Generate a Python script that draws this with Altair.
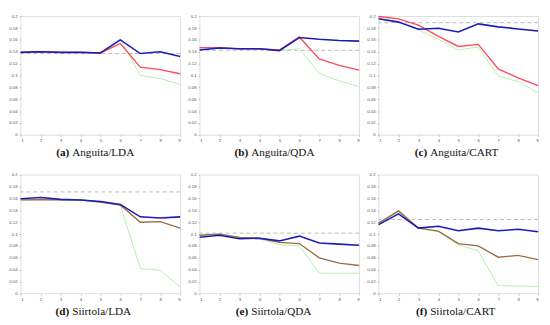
import altair as alt
import pandas as pd

x_vals = [1, 2, 3, 4, 5, 6, 7, 8, 9]

letters = ["(a)", "(b)", "(c)", "(d)", "(e)", "(f)"]
names = ["Anguita/LDA", "Anguita/QDA", "Anguita/CART",
         "Siirtola/LDA", "Siirtola/QDA", "Siirtola/CART"]

blue = [
    [0.139, 0.140, 0.139, 0.139, 0.138, 0.160, 0.137, 0.140, 0.132],
    [0.143, 0.1465, 0.145, 0.145, 0.142, 0.164, 0.161, 0.159, 0.158],
    [0.1955, 0.190, 0.178, 0.1795, 0.1735, 0.187, 0.182, 0.1785, 0.175],
    [0.1595, 0.1615, 0.1585, 0.1575, 0.155, 0.150, 0.129, 0.127, 0.129],
    [0.0945, 0.098, 0.092, 0.093, 0.0885, 0.0965, 0.085, 0.083, 0.081],
    [0.116, 0.134, 0.110, 0.113, 0.1055, 0.110, 0.1055, 0.108, 0.104],
]
second = [
    [0.139, 0.140, 0.139, 0.139, 0.138, 0.154, 0.114, 0.110, 0.103],
    [0.147, 0.147, 0.145, 0.145, 0.143, 0.165, 0.128, 0.117, 0.109],
    [0.1995, 0.1955, 0.185, 0.166, 0.149, 0.1525, 0.111, 0.096, 0.083],
    [0.1575, 0.158, 0.1575, 0.1575, 0.154, 0.149, 0.120, 0.121, 0.110],
    [0.098, 0.100, 0.0945, 0.093, 0.086, 0.084, 0.060, 0.051, 0.047],
    [0.1185, 0.139, 0.110, 0.105, 0.084, 0.080, 0.061, 0.064, 0.057],
]
green = [
    [0.139, 0.140, 0.139, 0.139, 0.138, 0.162, 0.100, 0.095, 0.085],
    [0.146, 0.147, 0.145, 0.145, 0.142, 0.145, 0.1035, 0.091, 0.081],
    [0.196, 0.191, 0.177, 0.161, 0.143, 0.148, 0.099, 0.090, 0.0705],
    [0.157, 0.158, 0.157, 0.157, 0.153, 0.149, 0.042, 0.039, 0.011],
    [0.098, 0.100, 0.094, 0.092, 0.082, 0.080, 0.034, 0.034, 0.034],
    [0.118, 0.137, 0.110, 0.104, 0.082, 0.0715, 0.013, 0.0125, 0.0115],
]
baseline = [0.137, 0.1425, 0.189, 0.171, 0.1015, 0.1245]

y_ticks = [0, 0.02, 0.04, 0.06, 0.08, 0.1, 0.12, 0.14, 0.16, 0.18, 0.2]

W, H = 164, 122
BLUE = "#1c1cb4"
RED = "#ff4a5c"
BROWN = "#9c6c48"
GREEN = "#b4f0ac"
GRAY = "#b8b8b8"


def yenc(field):
    return alt.Y(f"{field}:Q", scale=alt.Scale(domain=[0, 0.2], nice=False),
                 axis=alt.Axis(values=y_ticks, format="~g", title=None))


def panel(i):
    df = pd.DataFrame({"x": x_vals, "blue": blue[i], "second": second[i], "green": green[i]})
    xs = alt.X("x:Q", scale=alt.Scale(domain=[1, 9], nice=False),
               axis=alt.Axis(values=x_vals, format="d", title=None))
    base = alt.Chart(df)
    rule = alt.Chart(pd.DataFrame({"b": [baseline[i]]})).mark_rule(
        color=GRAY, strokeDash=[4, 3], strokeWidth=1).encode(y=yenc("b"))
    g = base.mark_line(color=GREEN, strokeWidth=1).encode(x=xs, y=yenc("green"))
    sc = RED if i < 3 else BROWN
    r = base.mark_line(color=sc, strokeWidth=1.4).encode(x=xs, y=yenc("second"))
    b = base.mark_line(color=BLUE, strokeWidth=1.6).encode(x=xs, y=yenc("blue"))
    split = W / 2 - 32
    cap1 = alt.Chart(pd.DataFrame({"t": [letters[i]]})).mark_text(
        font="Liberation Serif", fontSize=11.5, fontWeight="bold", align="right",
        baseline="middle", color="#111").encode(
        text="t:N", x=alt.value(split), y=alt.value(H + 19))
    cap2 = alt.Chart(pd.DataFrame({"t": [names[i]]})).mark_text(
        font="Liberation Serif", fontSize=11.5, align="left",
        baseline="middle", color="#111").encode(
        text="t:N", x=alt.value(split + 3), y=alt.value(H + 19))
    return alt.layer(rule, g, r, b, cap1, cap2).properties(width=W, height=H)


top = alt.hconcat(panel(0), panel(1), panel(2), spacing=3)
bottom = alt.hconcat(panel(3), panel(4), panel(5), spacing=3)
chart = alt.vconcat(top, bottom, spacing=12).properties(
    padding={"left": 0, "top": 0, "right": 0, "bottom": 0}
).configure_view(stroke="#d4d4d4", strokeWidth=0.8).configure_axis(
    grid=False, domain=False, labelFontSize=4.5, labelColor="#555555",
    labelFont="Liberation Sans", tickSize=1.5, tickColor="#bbbbbb", labelPadding=1.5
).configure_axisY(labelPadding=2)

chart.save("out.html", embed_options={"renderer": "svg", "actions": False})
